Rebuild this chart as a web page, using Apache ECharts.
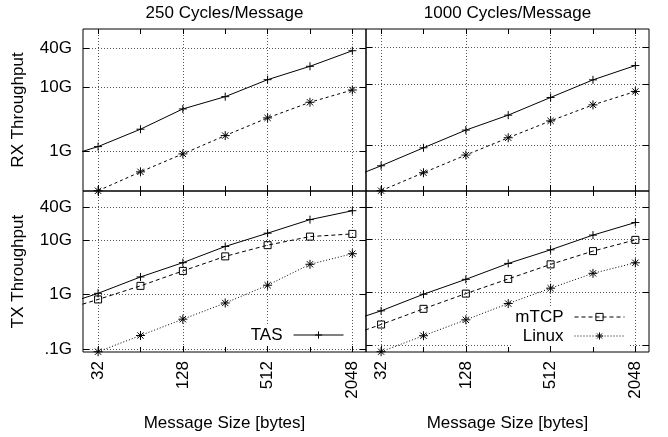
<!DOCTYPE html>
<html><head><meta charset="utf-8">
<script src="https://cdn.jsdelivr.net/npm/echarts@6/dist/echarts.min.js"></script>
<style>html,body{margin:0;padding:0;background:#fff}#c{width:668px;height:437px}</style>
</head><body><div id="c"></div>
<script>
// ---- data ----
const sizes = [16, 32, 64, 128, 256, 512, 1024, 2048];
const xTickValues = [32, 64, 128, 256, 512, 1024, 2048];
const xLabelValues = [32, 128, 512, 2048];
const xMinorValues = [64, 256, 1024];
const yTickValues = [0.1, 1, 10, 40];
const yTickLabels = ['.1G', '1G', '10G', '40G'];
const panelTitles = ['250 Cycles/Message', '1000 Cycles/Message'];
const rowNames = ['RX Throughput', 'TX Throughput'];
const xAxisName = 'Message Size [bytes]';
const xRange = [25, 2560];
const yMax = 80;
const yMins = [0.24, 0.175, 0.0875, 0.0762]; // RX250, RX1000, TX250, TX1000

const rx250Tas   = [0.74, 1.18, 2.2, 4.55, 7.07, 13.0, 21.0, 36.7];
const rx250Linux = [null, 0.242, 0.477, 0.908, 1.75, 3.3, 5.78, 8.98];
const rx1000Tas   = [0.24, 0.454, 0.896, 1.75, 3.08, 6.01, 11.7, 20.1];
const rx1000Linux = [null, 0.177, 0.349, 0.681, 1.31, 2.48, 4.54, 7.54];
const tx250Tas   = [0.58, 1.05, 2.1, 3.85, 7.64, 13.4, 23.8, 34.7];
const tx250Mtcp  = [0.47, 0.81, 1.44, 2.71, 5.02, 8.07, 11.6, 13.0];
const tx250Linux = [null, 0.0885, 0.176, 0.351, 0.697, 1.48, 3.59, 5.62];
const tx1000Tas   = [0.247, 0.451, 0.925, 1.76, 3.5, 6.3, 11.9, 20.5];
const tx1000Mtcp  = [0.132, 0.25, 0.492, 0.95, 1.79, 3.36, 5.96, 9.68];
const tx1000Linux = [null, 0.0772, 0.154, 0.306, 0.618, 1.2, 2.28, 3.6];

// ---- styles ----
const FONT = 'Liberation Sans';
const FS = 17;
const plusPath = 'path://M0,4L8,4M4,0L4,8';
const starPath = 'path://M0,4L8,4M4,0L4,8M1.2,1.2L6.8,6.8M1.2,6.8L6.8,1.2';
const ST = {
  tas:     {symbol: plusPath, size: 8, dash: 'solid'},
  mtcp:    {symbol: 'rect', size: 7, dash: [4, 3]},
  linuxRx: {symbol: starPath, size: 9, dash: [3, 3]},
  linuxTx: {symbol: starPath, size: 9, dash: [1, 2]}
};
const gridLine = {show: true, lineStyle: {color: '#555', width: 1, type: [1, 2]}};
const txt = {color: '#000', fontFamily: FONT, fontSize: FS};

const grids = [
  {left: 83, top: 29, width: 283, height: 162},
  {left: 366, top: 29, width: 283, height: 162},
  {left: 83, top: 191, width: 283, height: 161},
  {left: 366, top: 191, width: 283, height: 161}
].map(g => Object.assign(g, {show: true, borderColor: '#000', borderWidth: 1, containLabel: false, outerBoundsMode: 'none', backgroundColor: 'transparent'}));

function yLabel(v) {
  for (let k = 0; k < yTickValues.length; k++) {
    if (Math.abs(Math.log10(v / yTickValues[k])) < 1e-6) return yTickLabels[k];
  }
  return '';
}

const xAxes = [], yAxes = [];
for (let i = 0; i < 4; i++) {
  const bottomRow = i >= 2, leftCol = i % 2 === 0;
  const base = {type: 'log', logBase: 2, gridIndex: i, min: xRange[0], max: xRange[1],
    axisLine: {show: false}, splitLine: {show: false}, axisLabel: {show: false}};
  xAxes.push(Object.assign({}, base, {
    position: 'bottom',
    axisTick: {show: true, inside: true, length: 6, customValues: xLabelValues, lineStyle: {color: '#000'}},
    axisLabel: {show: bottomRow, customValues: xLabelValues, rotate: 90, margin: 9,
      formatter: v => String(Math.round(v)), color: '#000', fontFamily: FONT, fontSize: FS},
    splitLine: Object.assign({}, gridLine),
    name: bottomRow ? xAxisName : '', nameLocation: 'middle', nameGap: 63,
    nameTextStyle: txt
  }));
  xAxes.push(Object.assign({}, base, {
    position: 'bottom',
    axisTick: {show: true, inside: true, length: 5, customValues: xMinorValues, lineStyle: {color: '#000'}}
  }));
  xAxes.push(Object.assign({}, base, {
    position: 'top',
    axisTick: {show: true, inside: true, length: 5, customValues: xTickValues, lineStyle: {color: '#000'}},
    name: bottomRow ? '' : panelTitles[i], nameLocation: 'middle', nameGap: 7, nameTextStyle: txt
  }));
  const ybase = {type: 'log', logBase: 10, gridIndex: i, min: yMins[i], max: yMax,
    axisLine: {show: false}, splitLine: {show: false}, axisLabel: {show: false}};
  yAxes.push(Object.assign({}, ybase, {
    position: 'left',
    axisTick: {show: true, inside: true, length: 6, customValues: yTickValues, lineStyle: {color: '#000'}},
    axisLabel: {show: leftCol, customValues: yTickValues, margin: 11, formatter: yLabel,
      color: '#000', fontFamily: FONT, fontSize: FS},
    splitLine: Object.assign({}, gridLine),
    name: leftCol ? rowNames[bottomRow ? 1 : 0] : '', nameLocation: 'middle', nameGap: 56,
    nameTextStyle: txt
  }));
  yAxes.push(Object.assign({}, ybase, {
    position: 'right',
    axisTick: {show: true, inside: true, length: 6, customValues: yTickValues, lineStyle: {color: '#000'}}
  }));
}

function mk(name, panel, vals, st) {
  return {
    type: 'line', name: name, xAxisIndex: panel * 3, yAxisIndex: panel * 2,
    data: sizes.map((s, k) => [s, vals[k]]),
    symbol: st.symbol, symbolSize: st.size, showSymbol: true, clip: true,
    lineStyle: {color: '#000', width: 1, type: st.dash},
    itemStyle: {color: 'transparent', borderColor: '#000', borderWidth: 1},
    silent: true, animation: false, z: 3
  };
}

const series = [
  mk('TAS', 3, tx1000Tas, ST.tas),
  mk('mTCP', 3, tx1000Mtcp, ST.mtcp),
  mk('Linux', 3, tx1000Linux, ST.linuxTx),
  mk('TAS', 2, tx250Tas, ST.tas),
  mk('mTCP', 2, tx250Mtcp, ST.mtcp),
  mk('Linux', 2, tx250Linux, ST.linuxTx),
  mk('TAS', 0, rx250Tas, ST.tas),
  mk('Linux', 0, rx250Linux, ST.linuxRx),
  mk('TAS', 1, rx1000Tas, ST.tas),
  mk('Linux', 1, rx1000Linux, ST.linuxRx)
];

const legendCommon = {
  orient: 'vertical', align: 'right', itemWidth: 50, itemHeight: 9, itemGap: 1,
  backgroundColor: '#fff', padding: [1, 4], selectedMode: false,
  textStyle: {color: '#000', fontFamily: FONT, fontSize: FS, lineHeight: 18, padding: [0, 6, 0, 0]},
  itemStyle: {color: 'transparent', borderColor: '#000', borderWidth: 1}
};
const legends = [
  Object.assign({}, legendCommon, {right: 320, top: 325,
    data: [{name: 'TAS', lineStyle: {color: '#000', width: 1, type: 'solid'}}]}),
  Object.assign({}, legendCommon, {right: 39, top: 307,
    data: [{name: 'mTCP', lineStyle: {color: '#000', width: 1, type: ST.mtcp.dash}},
           {name: 'Linux', lineStyle: {color: '#000', width: 1, type: ST.linuxTx.dash}}]})
];

const chart = echarts.init(document.getElementById('c'), null, {renderer: 'canvas'});
chart.setOption({
  animation: false,
  backgroundColor: '#fff',
  textStyle: {fontFamily: FONT},
  grid: grids,
  xAxis: xAxes,
  yAxis: yAxes,
  legend: legends,
  series: series
});
</script></body></html>
